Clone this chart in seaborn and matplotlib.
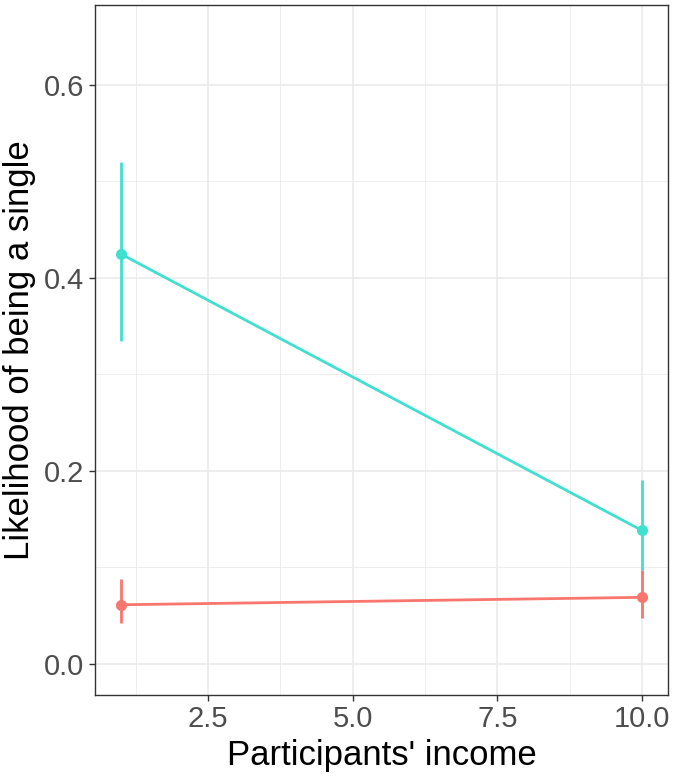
import numpy as np
import pandas as pd
import seaborn as sns
import matplotlib.pyplot as plt
from matplotlib.ticker import MultipleLocator

# values
income = [1, 10]
groups = ["group A", "group B"]
prob_a = [0.061, 0.0687]
lo_a = [0.042, 0.047]
hi_a = [0.0876, 0.097]
prob_b = [0.4244, 0.138]
lo_b = [0.3344, 0.097]
hi_b = [0.5195, 0.19]
colors = ["#F8766D", "#40E0D0"]

data = pd.DataFrame({
    "income": income * 2,
    "group": [groups[0]] * 2 + [groups[1]] * 2,
    "prob": prob_a + prob_b,
    "lo": lo_a + lo_b,
    "hi": hi_a + hi_b,
})

sns.set_theme(style="whitegrid")
plt.rcParams['font.family'] = ['Liberation Sans', 'DejaVu Sans']

fig = plt.figure(figsize=(6.74, 7.79), dpi=100)
ax = fig.add_axes([95 / 674, 84 / 779, 573 / 674, 690 / 779])

for g, c in zip(groups, colors):
    sub = data[data["group"] == g]
    ax.vlines(sub["income"], sub["lo"], sub["hi"], color=c, linewidth=2, zorder=3)
    sns.lineplot(data=sub, x="income", y="prob", color=c, linewidth=2,
                 marker="o", markersize=8, markeredgewidth=0, ax=ax, zorder=4)

ax.set_xlim(0.55, 10.45)
ax.set_ylim(-0.0325, 0.6825)
ax.xaxis.set_major_locator(MultipleLocator(2.5))
ax.xaxis.set_minor_locator(MultipleLocator(1.25))
ax.yaxis.set_major_locator(MultipleLocator(0.2))
ax.yaxis.set_minor_locator(MultipleLocator(0.1))
ax.xaxis.set_major_formatter(plt.FuncFormatter(lambda v, p: f"{v:.1f}"))
ax.yaxis.set_major_formatter(plt.FuncFormatter(lambda v, p: f"{v:.1f}"))

ax.grid(which="major", color="#EBEBEB", linewidth=1.2)
ax.grid(which="minor", color="#EBEBEB", linewidth=0.6)
ax.set_axisbelow(True)
ax.set_facecolor("white")
for s in ax.spines.values():
    s.set_color("#333333")
    s.set_linewidth(1)

ax.tick_params(axis="both", which="major", length=4.5, width=1, color="#333333",
               labelcolor="#4D4D4D", labelsize=21, pad=3, bottom=True, left=True)
ax.tick_params(axis="both", which="minor", length=0)

ax.set_xlabel("Participants' income", fontsize=25, color="black", labelpad=4)
ax.set_ylabel("Likelihood of being a single", fontsize=25, color="black", labelpad=6)

fig.savefig("out.png", dpi=100)
